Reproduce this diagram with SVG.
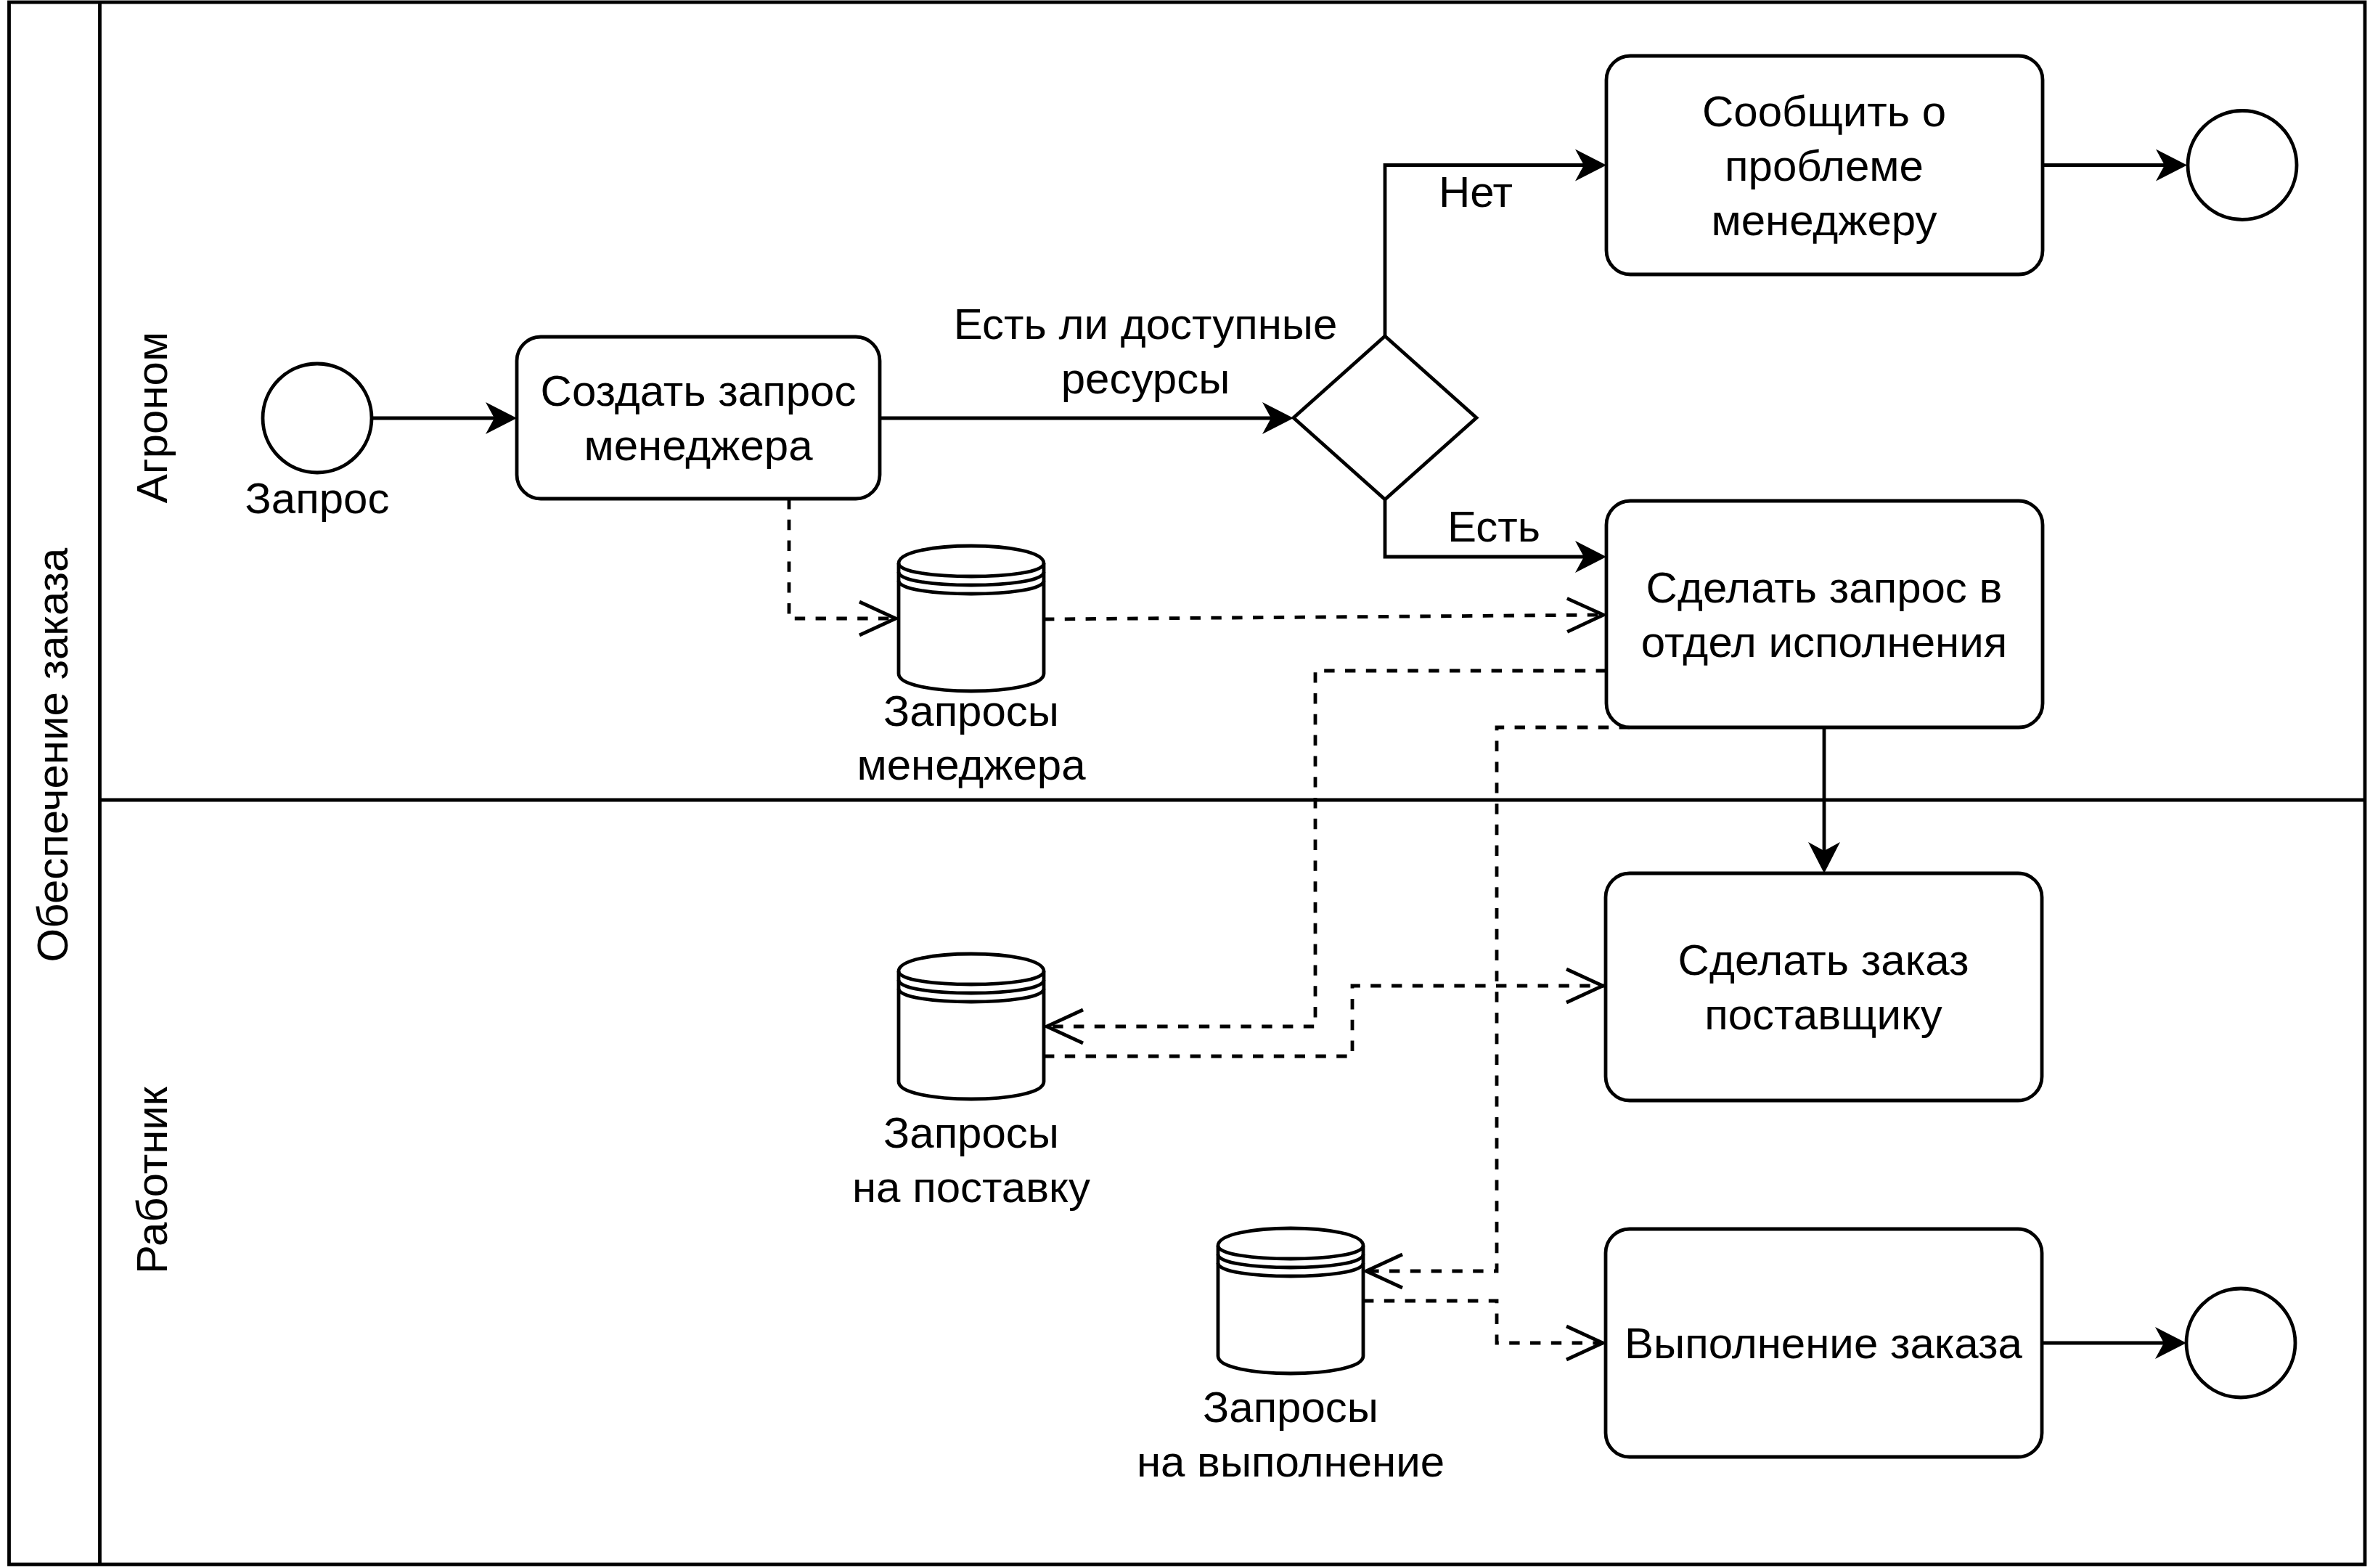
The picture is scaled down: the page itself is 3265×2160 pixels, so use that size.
<svg xmlns="http://www.w3.org/2000/svg" xmlns:xlink="http://www.w3.org/1999/xlink" width="3265" height="2160" viewBox="0 0 3265 2160">
  <style>
    .ln { fill: none; stroke: #000; stroke-width: 4.8; }
    .sh { fill: #fff; stroke: #000; stroke-width: 4.8; }
    .fl { fill: none; stroke: #000; stroke-width: 4.8; marker-end: url(#block); }
    .dl { fill: none; stroke: #000; stroke-width: 4.8; stroke-dasharray: 14.4 14.4; marker-end: url(#open); }
    text { font-family: "Liberation Sans", Arial, Helvetica, sans-serif; font-size: 60px; fill: #000; text-anchor: middle; }
  </style>
  <defs>
    <marker id="block" markerUnits="userSpaceOnUse" markerWidth="50" markerHeight="50" refX="23" refY="25" orient="auto" overflow="visible">
      <path d="M0,3 L43,25 L0,47 L12,25 Z" fill="#000"/>
    </marker>
    <marker id="open" markerUnits="userSpaceOnUse" markerWidth="60" markerHeight="60" refX="54" refY="30" orient="auto" overflow="visible">
      <path d="M0,7 L50,30 L0,53" fill="none" stroke="#000" stroke-width="4.8"/>
    </marker>
    <g id="ds">
      <path class="sh" d="M0,24 C0,-8 200,-8 200,24 L200,176 C200,208 0,208 0,176 Z"/>
      <path class="ln" d="M0,24 C0,48 200,48 200,24 M0,36 C0,60 200,60 200,36 M0,48 C0,72 200,72 200,48"/>
    </g>
  </defs>
  <rect width="3265" height="2160" fill="#fff"/>

  <g id="pool">
    <rect class="ln" x="12.5" y="3" width="3245.5" height="2152"/>
    <line class="ln" x1="137.5" y1="3" x2="137.5" y2="2155"/>
    <text transform="translate(93,1040) rotate(-90)">Обеспечение заказа</text>
  </g>
  <g id="lane-agronom">
    <text transform="translate(230,575) rotate(-90)">Агроном</text>
  </g>
  <g id="lane-worker">
    <line class="ln" x1="137.5" y1="1102" x2="3258" y2="1102"/>
    <text transform="translate(230,1626) rotate(-90)">Работник</text>
  </g>

  <g id="connectors">
    <path class="fl" d="M512,576 H692"/>
    <path class="fl" d="M1212,576 H1762"/>
    <path class="fl" d="M1908,463 V227.5 H2193"/>
    <path class="fl" d="M1908,688 V767 H2193"/>
    <path class="fl" d="M2814,227.5 H2993"/>
    <path class="fl" d="M2513,1002 V1183"/>
    <path class="fl" d="M2813,1850 H2992"/>
    <path class="dl" d="M1087,687 V852 H1238"/>
    <path class="dl" d="M1438,853 L2213,847"/>
    <path class="dl" d="M2213,924 H1812 V1414 H1438"/>
    <path class="dl" d="M1438,1455 H1863 V1358 H2212"/>
    <path class="dl" d="M2245,1002 H2062 V1751 H1878"/>
    <path class="dl" d="M1878,1792 H2062 V1850 H2212"/>
    <text x="1578" y="467">Есть ли доступные</text>
    <text x="1578" y="542">ресурсы</text>
    <text x="2033" y="285">Нет</text>
    <text x="2058" y="746">Есть</text>
  </g>

  <g id="start">
    <circle class="sh" cx="437" cy="576" r="75"/>
    <text x="437" y="707">Запрос</text>
  </g>
  <g id="task-create">
    <rect class="sh" x="712" y="464" width="500" height="223" rx="33"/>
    <text x="962" y="559">Создать запрос</text>
    <text x="962" y="634">менеджера</text>
  </g>
  <g id="gateway">
    <path class="sh" d="M1908,463 L2034,575.5 L1908,688 L1782,575.5 Z"/>
  </g>
  <g id="task-report">
    <rect class="sh" x="2213" y="77" width="601" height="301" rx="33"/>
    <text x="2513" y="174">Сообщить о</text>
    <text x="2513" y="249">проблеме</text>
    <text x="2513" y="324">менеджеру</text>
  </g>
  <g id="end-1">
    <circle class="sh" cx="3089" cy="227.5" r="75"/>
  </g>
  <g id="task-request">
    <rect class="sh" x="2213" y="690" width="601" height="312" rx="33"/>
    <text x="2513" y="830">Сделать запрос в</text>
    <text x="2513" y="905">отдел исполнения</text>
  </g>
  <g id="task-supplier">
    <rect class="sh" x="2212" y="1203" width="601" height="313" rx="33"/>
    <text x="2512" y="1343">Сделать заказ</text>
    <text x="2512" y="1418">поставщику</text>
  </g>
  <g id="task-execute">
    <rect class="sh" x="2212" y="1693" width="601" height="314" rx="33"/>
    <text x="2512" y="1871">Выполнение заказа</text>
  </g>
  <g id="end-2">
    <circle class="sh" cx="3087" cy="1850" r="75"/>
  </g>
  <g id="ds-manager">
    <use href="#ds" x="1238" y="752"/>
    <text x="1338" y="1000">Запросы</text>
    <text x="1338" y="1074">менеджера</text>
  </g>
  <g id="ds-supply">
    <use href="#ds" x="1238" y="1314"/>
    <text x="1338" y="1581">Запросы</text>
    <text x="1338" y="1656">на поставку</text>
  </g>
  <g id="ds-execute">
    <use href="#ds" x="1678" y="1692"/>
    <text x="1778" y="1959">Запросы</text>
    <text x="1778" y="2034">на выполнение</text>
  </g>
</svg>
